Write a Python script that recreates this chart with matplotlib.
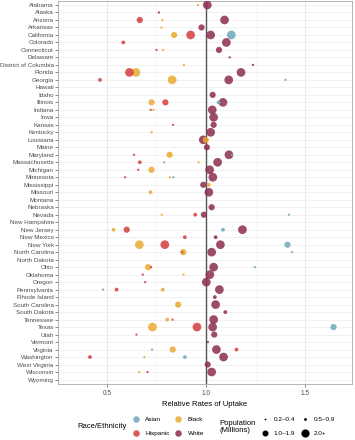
import matplotlib
matplotlib.use('Agg')
import matplotlib.pyplot as plt

plt.rcParams['font.family'] = ['Liberation Sans', 'DejaVu Sans']

states = ['Alabama', 'Alaska', 'Arizona', 'Arkansas', 'California', 'Colorado',
          'Connecticut', 'Delaware', 'District of Columbia', 'Florida', 'Georgia',
          'Hawaii', 'Idaho', 'Illinois', 'Indiana', 'Iowa', 'Kansas', 'Kentucky',
          'Louisiana', 'Maine', 'Maryland', 'Massachusetts', 'Michigan', 'Minnesota',
          'Mississippi', 'Missouri', 'Montana', 'Nebraska', 'Nevada', 'New Hampshire',
          'New Jersey', 'New Mexico', 'New York', 'North Carolina', 'North Dakota',
          'Ohio', 'Oklahoma', 'Oregon', 'Pennsylvania', 'Rhode Island',
          'South Carolina', 'South Dakota', 'Tennessee', 'Texas', 'Utah', 'Vermont',
          'Virginia', 'Washington', 'West Virginia', 'Wisconsin', 'Wyoming']

# population bins: 1 = 0.2-0.4, 2 = 0.5-0.9, 3 = 1.0-1.9, 4 = 2.0+
white_states = ['Alabama', 'Alaska', 'Arizona', 'Arkansas', 'California', 'Colorado',
                'Connecticut', 'Delaware', 'District of Columbia', 'Florida', 'Georgia',
                'Idaho', 'Illinois', 'Indiana', 'Iowa', 'Kansas', 'Kentucky', 'Louisiana',
                'Maine', 'Maryland', 'Massachusetts', 'Michigan', 'Minnesota', 'Mississippi',
                'Missouri', 'Nebraska', 'Nevada', 'New Jersey', 'New Mexico', 'New York',
                'North Carolina', 'Ohio', 'Oklahoma', 'Oregon', 'Pennsylvania',
                'Rhode Island', 'South Carolina', 'South Dakota', 'Tennessee', 'Texas',
                'Utah', 'Vermont', 'Virginia', 'Washington', 'West Virginia', 'Wisconsin']
white_rate = [1.006, 0.762, 1.093, 0.977, 1.023, 1.102, 1.065, 1.119, 1.236, 1.176, 1.114,
              1.033, 1.085, 1.031, 1.038, 1.038, 1.023, 0.986, 1.004, 1.115, 1.058, 1.018,
              1.034, 0.986, 1.014, 1.028, 0.989, 1.183, 1.048, 1.072, 1.028, 1.038, 1.019,
              1.001, 1.067, 1.044, 1.048, 1.097, 1.038, 1.033, 1.041, 1.009, 1.052, 1.088,
              1.008, 1.028]
white_pop = [4, 1, 4, 3, 4, 4, 3, 1, 1, 4, 4, 3, 4, 4, 4, 3, 4, 4, 3, 4, 4, 4, 4, 3, 4, 3,
             3, 4, 2, 4, 4, 4, 4, 4, 4, 2, 4, 2, 4, 4, 3, 1, 4, 4, 3, 4]

black_states = ['Alabama', 'Arizona', 'Arkansas', 'California', 'Connecticut',
                'District of Columbia', 'Florida', 'Georgia', 'Illinois', 'Indiana',
                'Kentucky', 'Louisiana', 'Maryland', 'Massachusetts', 'Michigan',
                'Minnesota', 'Mississippi', 'Missouri', 'Nevada', 'New Jersey', 'New York',
                'North Carolina', 'Ohio', 'Oklahoma', 'Pennsylvania', 'South Carolina',
                'Tennessee', 'Texas', 'Virginia', 'Washington', 'Wisconsin']
black_rate = [0.959, 0.780, 0.775, 0.839, 0.784, 0.888, 0.647, 0.829, 0.725, 0.735, 0.726,
              0.999, 0.816, 0.962, 0.725, 0.818, 1.013, 0.720, 0.777, 0.534, 0.664, 0.885,
              0.708, 0.886, 0.782, 0.859, 0.804, 0.730, 0.832, 0.689, 0.663]
black_pop = [1, 1, 1, 3, 1, 1, 4, 4, 3, 1, 1, 3, 3, 1, 3, 1, 2, 2, 1, 2, 4, 3, 3, 1, 2, 3,
             2, 4, 3, 1, 1]

hisp_states = ['Arizona', 'California', 'Colorado', 'Connecticut', 'Florida', 'Georgia',
               'Illinois', 'Indiana', 'Kansas', 'Maryland', 'Massachusetts', 'Michigan',
               'Minnesota', 'Nevada', 'New Jersey', 'New Mexico', 'New York',
               'North Carolina', 'Ohio', 'Oklahoma', 'Oregon', 'Pennsylvania', 'Tennessee',
               'Texas', 'Utah', 'Virginia', 'Washington', 'Wisconsin']
hisp_rate = [0.666, 0.922, 0.583, 0.750, 0.614, 0.466, 0.795, 0.721, 0.834, 0.637, 0.666,
             0.658, 0.592, 0.945, 0.600, 0.893, 0.792, 0.880, 0.723, 0.681, 0.693, 0.549,
             0.831, 0.954, 0.649, 1.153, 0.415, 0.705]
hisp_pop = [3, 4, 2, 1, 4, 2, 3, 1, 1, 1, 2, 1, 1, 2, 3, 2, 4, 1, 1, 1, 1, 2, 1, 4, 1, 2,
            2, 1]

asian_states = ['California', 'Georgia', 'Illinois', 'Maryland', 'Massachusetts',
                'Minnesota', 'Nevada', 'New Jersey', 'New York', 'North Carolina', 'Ohio',
                'Pennsylvania', 'Texas', 'Virginia', 'Washington']
asian_rate = [1.127, 1.400, 1.063, 1.130, 0.789, 0.835, 1.417, 1.085, 1.410, 1.432, 1.246,
              0.481, 1.642, 0.728, 0.893]
asian_pop = [4, 1, 2, 1, 1, 1, 1, 2, 3, 1, 1, 1, 3, 1, 2]

pop_labels = ['0.2\u20130.4', '0.5\u20130.9', '1.0\u20131.9', '2.0+']
colors = {'Asian': '#6fa8bc', 'Black': '#eaa930', 'Hispanic': '#d43c3c', 'White': '#8c2d4f'}
diam_px = {1: 2.3, 2: 3.8, 3: 6.2, 4: 8.7}

def msize(d):
    return (d * 0.72) ** 2

fig = plt.figure(figsize=(3.55, 4.4), dpi=100)
ax = fig.add_axes([58 / 355, 1 - 384 / 440, 294 / 355, 383.5 / 440])

# grid
for i in range(len(states)):
    ax.axhline(i, color='#ebebeb', lw=0.5, zorder=0)
for v in [0.75, 1.25]:
    ax.axvline(v, color='#f3f3f3', lw=0.4, zorder=0)
for v in [0.5, 1.5]:
    ax.axvline(v, color='#e6e6e6', lw=0.6, zorder=0)
ax.axvline(1.0, color='#555555', lw=1.0, zorder=1)

groups = [('White', white_states, white_rate, white_pop),
          ('Black', black_states, black_rate, black_pop),
          ('Hispanic', hisp_states, hisp_rate, hisp_pop),
          ('Asian', asian_states, asian_rate, asian_pop)]
for name, st, rate, pop in groups:
    ys = [states.index(s) for s in st]
    ss = [msize(diam_px[p]) for p in pop]
    ax.scatter(rate, ys, s=ss, c=colors[name], alpha=0.85, linewidths=0, zorder=3)

ax.set_xlim(0.254, 1.735)
ax.set_ylim(len(states) - 0.4, -0.6)
ax.set_yticks(range(len(states)))
ax.set_yticklabels(states)
ax.set_xticks([0.5, 1.0, 1.5])
ax.set_xticklabels(['0.5', '1.0', '1.5'])
ax.tick_params(axis='y', labelsize=4.5, colors='#555555', labelcolor='#4d4d4d',
               length=2, width=0.5, pad=1)
ax.tick_params(axis='x', labelsize=4.7, colors='#555555', labelcolor='#4d4d4d',
               length=2, width=0.5, pad=2)
for sp in ax.spines.values():
    sp.set_color('#a8a8a8')
    sp.set_linewidth(0.6)
ax.set_xlabel('Relative Rates of Uptake', fontsize=5.5, labelpad=3)

# legend drawn in pixel space
lg = fig.add_axes([0, 0, 1, 1])
lg.patch.set_visible(False)
lg.set_xlim(0, 355)
lg.set_ylim(440, 0)
lg.axis('off')

lg.text(77, 427, 'Race/Ethnicity', fontsize=5.5, va='center', ha='left')
color_keys = [('Asian', 135.5, 419.5), ('Black', 178, 419.5),
              ('Hispanic', 135.5, 433.5), ('White', 178, 433.5)]
for name, kx, ky in color_keys:
    lg.scatter([kx], [ky], s=msize(6.5), c=colors[name], alpha=0.85, linewidths=0)
    lg.text(kx + 9.5, ky, name, fontsize=4.6, va='center', ha='left')

lg.text(219, 427, 'Population\n(Millions)', fontsize=5.5, va='center', ha='left',
        linespacing=1.0)
size_keys = [(1, 265, 419.5), (2, 305, 419.5), (3, 265, 433.5), (4, 305, 433.5)]
for p, kx, ky in size_keys:
    lg.scatter([kx], [ky], s=msize([1.8, 2.8, 6.0, 8.2][p - 1]), c='black', linewidths=0)
    lg.text(kx + 8.5, ky, pop_labels[p - 1], fontsize=4.6, va='center', ha='left')

fig.savefig('out.png', dpi=100)
